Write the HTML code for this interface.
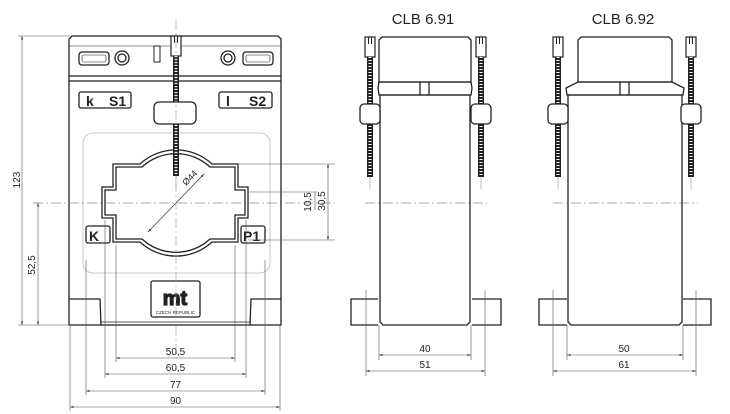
<!DOCTYPE html>
<html><head><style>
html,body{margin:0;padding:0;background:#fff;}
svg{display:block;}
text{font-family:"Liberation Sans",Arial,sans-serif;fill:#222;}
</style></head><body>
<svg width="730" height="414" viewBox="0 0 730 414" xmlns="http://www.w3.org/2000/svg">
<defs>
<marker id="a" viewBox="0 0 10 10" refX="10" refY="5" markerWidth="6" markerHeight="6" orient="auto-start-reverse"><path d="M0,2 L10,5 L0,8 Z" fill="#333"/></marker>
<g id="screw">
  <line x1="0" y1="-2" x2="0" y2="152" stroke="#999" stroke-width="0.6"/>
  <rect x="-5" y="0" width="10" height="20" fill="#fff" stroke="#222" stroke-width="1.2"/>
  <line x1="-1.5" y1="0" x2="-1.5" y2="7" stroke="#222"/><line x1="1.5" y1="0" x2="1.5" y2="7" stroke="#222"/>
  <line x1="0" y1="20" x2="0" y2="140" stroke="#222" stroke-width="6"/>
  <line x1="0" y1="20" x2="0" y2="140" stroke="#fff" stroke-width="3" stroke-dasharray="1,2"/>
</g>
</defs>
<g fill="none" stroke="#222" stroke-width="1.3">
<!-- FRONT VIEW -->
<path d="M72,36 L278,36 L281,39 L281,325 L69,325 L69,39 Z"/>
<line x1="69" y1="76" x2="281" y2="76"/><line x1="69" y1="81" x2="281" y2="81"/>
<line x1="69" y1="46" x2="281" y2="46" stroke-width="0.5"/>
<rect x="79" y="52" width="30" height="13" rx="3"/><rect x="82" y="55" width="24" height="7" rx="2" stroke-width="0.6"/>
<circle cx="122" cy="58" r="7"/><circle cx="122" cy="58" r="4"/>
<rect x="243" y="52" width="30" height="13" rx="3"/><rect x="246" y="55" width="24" height="7" rx="2" stroke-width="0.6"/>
<circle cx="228" cy="58" r="7"/><circle cx="228" cy="58" r="4"/>
<rect x="154" y="46" width="6" height="16" stroke-width="1"/>
<rect x="79" y="92" width="52" height="16" rx="2"/>
<rect x="219" y="92" width="53" height="16" rx="2"/>
<rect x="83" y="133" width="187" height="140" rx="10" stroke="#bbb" stroke-width="0.8"/>
<path d="M113,164 L140,164 A53,53 0 0 1 212,164 L238,164 L238,187 L248,187 L248,218 L238,218 L238,242 L212,242 A53,53 0 0 1 140,242 L113,242 L113,218 L102,218 L102,187 L113,187 Z"/>
<path d="M116,167 L142,167 A50,50 0 0 1 210,167 L235,167 L235,190 L245,190 L245,215 L235,215 L235,239 L210,239 A50,50 0 0 1 142,239 L116,239 L116,215 L105,215 L105,190 L116,190 Z"/>
<rect x="86" y="226" width="24" height="17" rx="2"/>
<rect x="241" y="226" width="24" height="17" rx="2"/>
<rect x="151" y="281" width="49" height="36" rx="2"/>
<path d="M69,299 L100,299 L101,325"/><path d="M281,299 L251,299 L250,325"/>
<line x1="101" y1="322" x2="250" y2="322" stroke-width="0.8"/>
<line x1="148" y1="232" x2="204" y2="174" stroke-width="0.6" marker-start="url(#a)" marker-end="url(#a)"/>
</g>
<use href="#screw" x="176" y="36"/>
<rect x="154" y="102" width="42" height="22" rx="5" fill="#fff" stroke="#222" stroke-width="1.3"/>
<text x="86" y="106" font-size="14" font-weight="bold">k</text><text x="109" y="106" font-size="14" font-weight="bold">S1</text>
<text x="226" y="106" font-size="14" font-weight="bold">l</text><text x="249" y="106" font-size="14" font-weight="bold">S2</text>
<text x="89" y="241" font-size="14" font-weight="bold">K</text><text x="243" y="241" font-size="14" font-weight="bold">P1</text>
<text x="175" y="305" font-size="20" font-weight="bold" text-anchor="middle" fill="#fff" stroke="#222" stroke-width="1.2">mt</text>
<text x="175.5" y="314" font-size="4.5" text-anchor="middle">CZECH REPUBLIC</text>
<text x="186" y="186" font-size="9" transform="rotate(-45 186 186)">Ø44</text>

<!-- dims front -->
<g stroke="#555" stroke-width="0.6" fill="none">
<line x1="18" y1="36" x2="70" y2="36"/><line x1="18" y1="325" x2="70" y2="325"/>
<line x1="22" y1="36" x2="22" y2="325" marker-start="url(#a)" marker-end="url(#a)"/><line x1="38" y1="203" x2="38" y2="325" marker-start="url(#a)" marker-end="url(#a)"/>
<line x1="33" y1="203" x2="335" y2="203" stroke-dasharray="10,3,2,3"/>
<line x1="176" y1="20" x2="176" y2="360" stroke-dasharray="10,3,2,3" stroke="#999"/>
<line x1="238" y1="164" x2="335" y2="164"/><line x1="248" y1="192" x2="318" y2="192"/>
<line x1="248" y1="240" x2="335" y2="240"/>
<line x1="328" y1="164" x2="328" y2="240" marker-start="url(#a)" marker-end="url(#a)"/><line x1="315" y1="192" x2="315" y2="210"/>
<line x1="116" y1="245" x2="116" y2="362"/><line x1="235" y1="245" x2="235" y2="362"/>
<line x1="105" y1="220" x2="105" y2="378"/><line x1="246" y1="220" x2="246" y2="378"/>
<line x1="86" y1="260" x2="86" y2="395"/><line x1="265" y1="260" x2="265" y2="395"/>
<line x1="70" y1="325" x2="70" y2="411"/><line x1="280" y1="325" x2="280" y2="411"/>
<line x1="116" y1="358" x2="235" y2="358" marker-start="url(#a)" marker-end="url(#a)"/><line x1="105" y1="374" x2="246" y2="374" marker-start="url(#a)" marker-end="url(#a)"/>
<line x1="86" y1="391" x2="265" y2="391" marker-start="url(#a)" marker-end="url(#a)"/><line x1="70" y1="407" x2="280" y2="407" marker-start="url(#a)" marker-end="url(#a)"/>
</g>
<g font-size="10">
<text transform="translate(20 180) rotate(-90)" text-anchor="middle">123</text>
<text transform="translate(35 265) rotate(-90)" text-anchor="middle">52,5</text>
<text transform="translate(311 202) rotate(-90)" text-anchor="middle">10,5</text>
<text transform="translate(325 201) rotate(-90)" text-anchor="middle">30,5</text>
<text x="175.5" y="355" text-anchor="middle">50,5</text>
<text x="175.5" y="371" text-anchor="middle">60,5</text>
<text x="175.5" y="388" text-anchor="middle">77</text>
<text x="175.5" y="404" text-anchor="middle">90</text>
</g>

<!-- CLB 6.91 -->
<text x="423" y="24" font-size="15" text-anchor="middle">CLB 6.91</text>
<g fill="none" stroke="#222" stroke-width="1.3">
<path d="M382,37 L468,37 L471,40 L471,82 L379,82 L379,40 Z"/>
<path d="M379,82 L471,82 L472,88 L471,95 L379,95 L378,88 Z"/>
<line x1="420" y1="82" x2="420" y2="95"/><line x1="429" y1="82" x2="429" y2="95"/>
<path d="M380,95 L470,95 L470,322 L467,325 L383,325 L380,322 Z"/>
<path d="M378,299 L351,299 L351,325 L378,325"/><path d="M472,299 L501,299 L501,325 L472,325"/>
</g>
<use href="#screw" x="370" y="37"/><use href="#screw" x="481" y="37"/>
<rect x="360" y="104" width="20" height="20" rx="4" fill="#fff" stroke="#222" stroke-width="1.3"/>
<rect x="471" y="104" width="20" height="20" rx="4" fill="#fff" stroke="#222" stroke-width="1.3"/>

<!-- CLB 6.92 -->
<text x="623" y="24" font-size="15" text-anchor="middle">CLB 6.92</text>
<g fill="none" stroke="#222" stroke-width="1.3">
<path d="M581,37 L669,37 L672,40 L672,82 L578,82 L578,40 Z"/>
<path d="M578,82 L672,82 L684,88 L683,95 L567,95 L566,88 Z"/>
<line x1="620" y1="82" x2="620" y2="95"/><line x1="629" y1="82" x2="629" y2="95"/>
<path d="M568,95 L682,95 L682,322 L679,325 L571,325 L568,322 Z"/>
<path d="M567,299 L539,299 L539,325 L567,325"/><path d="M683,299 L711,299 L711,325 L683,325"/>
</g>
<use href="#screw" x="558" y="37"/><use href="#screw" x="691" y="37"/>
<rect x="548" y="104" width="20" height="20" rx="4" fill="#fff" stroke="#222" stroke-width="1.3"/>
<rect x="681" y="104" width="20" height="20" rx="4" fill="#fff" stroke="#222" stroke-width="1.3"/>

<g stroke="#555" stroke-width="0.6" fill="none">
<line x1="365" y1="203" x2="487" y2="203" stroke-dasharray="10,3,2,3"/>
<line x1="553" y1="203" x2="698" y2="203" stroke-dasharray="10,3,2,3"/>
<line x1="379" y1="325" x2="379" y2="360"/><line x1="471" y1="325" x2="471" y2="360"/>
<line x1="366" y1="290" x2="366" y2="376"/><line x1="485" y1="290" x2="485" y2="376"/>
<line x1="379" y1="355" x2="471" y2="355" marker-start="url(#a)" marker-end="url(#a)"/><line x1="366" y1="371" x2="485" y2="371" marker-start="url(#a)" marker-end="url(#a)"/>
<line x1="567" y1="325" x2="567" y2="360"/><line x1="683" y1="325" x2="683" y2="360"/>
<line x1="553" y1="290" x2="553" y2="376"/><line x1="696" y1="290" x2="696" y2="376"/>
<line x1="567" y1="355" x2="683" y2="355" marker-start="url(#a)" marker-end="url(#a)"/><line x1="553" y1="371" x2="696" y2="371" marker-start="url(#a)" marker-end="url(#a)"/>
</g>
<g font-size="10" text-anchor="middle">
<text x="425" y="352">40</text><text x="425" y="368">51</text>
<text x="624" y="352">50</text><text x="624" y="368">61</text>
</g>
</svg>
</body></html>
